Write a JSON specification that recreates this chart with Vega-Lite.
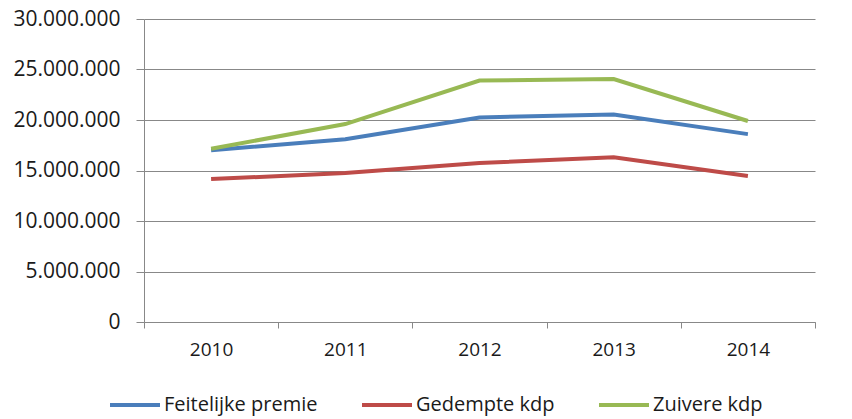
{
  "$schema": "https://vega.github.io/schema/vega-lite/v6.json",
  "width": 671,
  "height": 303,
  "autosize": {"type": "none"},
  "padding": {"left": 144, "top": 19, "right": 37, "bottom": 97},
  "background": "white",
  "config": {
    "locale": {"number": {"decimal": ",", "thousands": ".", "grouping": [3], "currency": ["€", ""]}},
    "view": {"stroke": null},
    "font": "Open Sans"
  },
  "data": {
    "values": [
      {"jaar": "2010", "reeks": "Feitelijke premie", "waarde": 17000000},
      {"jaar": "2011", "reeks": "Feitelijke premie", "waarde": 18100000},
      {"jaar": "2012", "reeks": "Feitelijke premie", "waarde": 20250000},
      {"jaar": "2013", "reeks": "Feitelijke premie", "waarde": 20550000},
      {"jaar": "2014", "reeks": "Feitelijke premie", "waarde": 18600000},
      {"jaar": "2010", "reeks": "Gedempte kdp", "waarde": 14150000},
      {"jaar": "2011", "reeks": "Gedempte kdp", "waarde": 14750000},
      {"jaar": "2012", "reeks": "Gedempte kdp", "waarde": 15750000},
      {"jaar": "2013", "reeks": "Gedempte kdp", "waarde": 16300000},
      {"jaar": "2014", "reeks": "Gedempte kdp", "waarde": 14450000},
      {"jaar": "2010", "reeks": "Zuivere kdp", "waarde": 17150000},
      {"jaar": "2011", "reeks": "Zuivere kdp", "waarde": 19600000},
      {"jaar": "2012", "reeks": "Zuivere kdp", "waarde": 23900000},
      {"jaar": "2013", "reeks": "Zuivere kdp", "waarde": 24050000},
      {"jaar": "2014", "reeks": "Zuivere kdp", "waarde": 19900000}
    ]
  },
  "mark": {"type": "line", "strokeWidth": 4},
  "encoding": {
    "x": {
      "field": "jaar", "type": "ordinal",
      "scale": {"paddingInner": 0, "paddingOuter": 0},
      "axis": {
        "title": null, "labelAngle": 0, "labelFontSize": 19, "labelColor": "#1a1a1a",
        "labelPadding": 12, "tickBand": "extent", "tickSize": 6, "tickColor": "#888",
        "domainColor": "#888", "grid": false
      }
    },
    "y": {
      "field": "waarde", "type": "quantitative",
      "scale": {"domain": [0, 30000000]},
      "axis": {
        "title": null, "format": ",d", "values": [0, 5000000, 10000000, 15000000, 20000000, 25000000, 30000000],
        "labelOverlap": false, "labelFontSize": 21, "labelColor": "#1a1a1a", "labelPadding": 16, "tickSize": 8,
        "tickColor": "#888", "domainColor": "#888", "gridColor": "#888", "gridOpacity": 1
      }
    },
    "color": {
      "field": "reeks", "type": "nominal",
      "scale": {"domain": ["Feitelijke premie", "Gedempte kdp", "Zuivere kdp"], "range": ["#4a7ebb", "#be4b48", "#98b954"]},
      "legend": {
        "title": null, "orient": "none", "direction": "horizontal",
        "legendX": -36, "legendY": 359,
        "symbolType": "stroke", "symbolSize": 2500, "symbolStrokeWidth": 4,
        "labelFontSize": 20, "labelColor": "#1a1a1a", "labelOffset": 2,
        "columnPadding": 36
      }
    }
  }
}
